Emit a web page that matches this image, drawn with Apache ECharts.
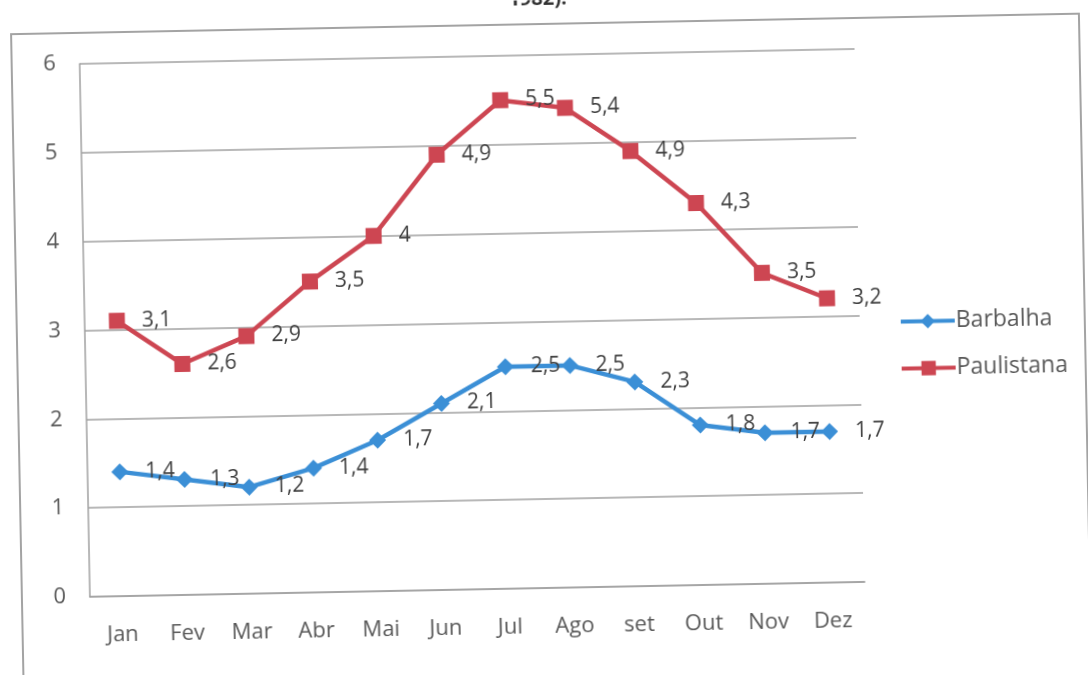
<!DOCTYPE html>
<html>
<head>
<meta charset="utf-8">
<script src="https://cdn.jsdelivr.net/npm/echarts@6/dist/echarts.min.js"></script>
<style>
  html, body { margin: 0; padding: 0; background: #fff; overflow: hidden; }
  #chart {
    width: 1088px; height: 675px;
    transform: rotate(-1.1deg);
    transform-origin: 544px 337px;
  }
</style>
</head>
<body>
<div id="chart"></div>
<script>
// Monthly values for the two stations
const months = ['Jan', 'Fev', 'Mar', 'Abr', 'Mai', 'Jun', 'Jul', 'Ago', 'set', 'Out', 'Nov', 'Dez'];
const barbalha = [1.4, 1.3, 1.2, 1.4, 1.7, 2.1, 2.5, 2.5, 2.3, 1.8, 1.7, 1.7];
const paulistana = [3.1, 2.6, 2.9, 3.5, 4, 4.9, 5.5, 5.4, 4.9, 4.3, 3.5, 3.2];
const seriesNames = ['Barbalha', 'Paulistana'];

const FONT = '"Open Sans", Lato, sans-serif';
const BLUE = '#3b8fd6';
const RED = '#cd4652';

// decimal comma, as in the Portuguese labels
const fmt = p => String(p.value).replace('.', ',');

const chart = echarts.init(document.getElementById('chart'), null, { renderer: 'canvas' });

const labelStyle = {
  show: true,
  position: 'right',
  distance: 17,
  formatter: fmt,
  color: '#3f3f3f',
  fontFamily: FONT,
  fontSize: 21
};

chart.setOption({
  backgroundColor: '#ffffff',
  animation: false,
  graphic: [
    {
      type: 'rect',
      shape: { x: 17, y: 24, width: 1068, height: 700 },
      style: { fill: 'none', stroke: '#a3a3a3', lineWidth: 2 },
      silent: true
    },
    {
      type: 'text',
      left: 'center',
      top: -11,
      style: { text: '1982).', fontFamily: FONT, fontSize: 20, fontWeight: 'bold', fill: '#333' },
      silent: true
    }
  ],
  grid: { left: 85, right: 228, top: 55, bottom: 87, containLabel: false },
  legend: {
    orient: 'vertical',
    left: 899,
    top: 317,
    padding: 0,
    itemWidth: 54,
    itemHeight: 18,
    itemGap: 24,
    data: seriesNames,
    lineStyle: { width: 4 },
    textStyle: { color: '#595959', fontFamily: FONT, fontSize: 23, padding: [0, 0, 0, -4] }
  },
  xAxis: {
    type: 'category',
    data: months,
    boundaryGap: true,
    axisLine: { show: true, lineStyle: { color: '#a0a0a0', width: 1.5 } },
    axisTick: { show: false },
    axisLabel: { color: '#595959', fontFamily: FONT, fontSize: 22, margin: 28 }
  },
  yAxis: {
    type: 'value',
    min: 0,
    max: 6,
    interval: 1,
    axisLine: { show: true, lineStyle: { color: '#a0a0a0', width: 1.5 } },
    axisTick: { show: false },
    splitLine: { show: true, lineStyle: { color: '#a0a0a0', width: 1.5 } },
    axisLabel: { color: '#595959', fontFamily: FONT, fontSize: 22, margin: 24 }
  },
  series: [
    {
      name: seriesNames[0],
      type: 'line',
      data: barbalha,
      symbol: 'diamond',
      symbolSize: 17,
      lineStyle: { color: BLUE, width: 4.5 },
      itemStyle: { color: BLUE },
      label: labelStyle
    },
    {
      name: seriesNames[1],
      type: 'line',
      data: paulistana,
      symbol: 'rect',
      symbolSize: 16,
      lineStyle: { color: RED, width: 4.5 },
      itemStyle: { color: RED },
      label: labelStyle
    }
  ]
});
</script>
</body>
</html>
